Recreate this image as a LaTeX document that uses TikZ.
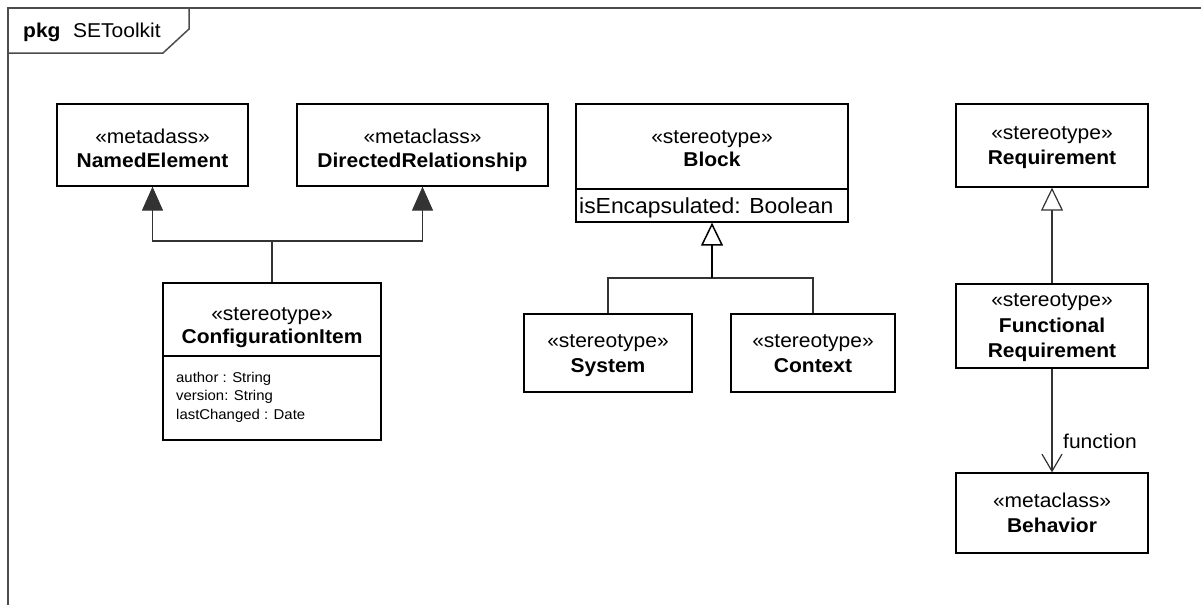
\documentclass[tikz,border=0pt]{standalone}
\usepackage{fontspec}
\setmainfont{Liberation Sans}[FakeStretch=1.05]
\usetikzlibrary{arrows.meta,calc}
\tikzset{
  umlbox/.style={draw=black, line width=1.3pt, fill=white, inner sep=0pt},
  divline/.style={draw=black, line width=1.3pt},
  stereo/.style={anchor=base, inner sep=0pt, font=\fontsize{20}{24}\selectfont},
  cname/.style={anchor=base, inner sep=0pt, font=\fontsize{20}{24}\selectfont\bfseries},
  attr/.style={anchor=base west, inner sep=0pt, font=\fontsize{14.2}{17}\selectfont},
  conn/.style={draw=black!80, line width=1.2pt},
  ext/.style={conn, -{Triangle[length=24pt,width=21pt]}},
  gen/.style={conn, -{Triangle[open,length=23pt,width=22pt,fill=white]}},
  assoc/.style={conn, -{Straight Barb[length=17pt,width=20pt]}},
  frameline/.style={draw=black!70, line width=1.5pt},
}
\begin{document}
\begin{tikzpicture}[x=1pt,y=-1pt]
\useasboundingbox (0,0) rectangle (1201,605);
% frame
\draw[frameline] (8,605) -- (8,8) -- (1201,8);
\draw[frameline] (8,53) -- (163,53) -- (189,29) -- (189,8);
\node[anchor=base west, inner sep=0pt, font=\fontsize{20}{24}\selectfont\bfseries] (pkgkw) at (23,37) {pkg};
\node[anchor=base west, inner sep=0pt, font=\fontsize{20}{24}\selectfont] (pkgname) at (73,37) {SEToolkit};

% boxes
\node[umlbox, minimum width=191pt, minimum height=82pt] (ne) at (152.5,145) {};
\node[umlbox, minimum width=251pt, minimum height=82pt] (dr) at (422.5,145) {};
\node[umlbox, minimum width=218pt, minimum height=157pt] (ci) at (272,361.5) {};
\node[umlbox, minimum width=272pt, minimum height=118pt] (block) at (712,163) {};
\node[umlbox, minimum width=168pt, minimum height=78pt] (sys) at (608,353) {};
\node[umlbox, minimum width=164pt, minimum height=78pt] (ctx) at (813,353) {};
\node[umlbox, minimum width=192pt, minimum height=83pt] (req) at (1052,145.5) {};
\node[umlbox, minimum width=192pt, minimum height=84pt] (fr) at (1052,326) {};
\node[umlbox, minimum width=192pt, minimum height=80pt] (beh) at (1052,513) {};

% dividers
\draw[divline] (163,356) -- (381,356);
\draw[divline] (576,189) -- (848,189);

% texts
\node[stereo] (ne1) at (152.5,143) {«metadass»};
\node[cname]  (ne2) at (152.5,167) {NamedElement};
\node[stereo] (dr1) at (422.5,143) {«metaclass»};
\node[cname]  (dr2) at (422.5,167) {DirectedRelationship};
\node[stereo] (ci1) at (272,320) {«stereotype»};
\node[cname]  (ci2) at (272,343) {ConfigurationItem};
\node[attr] (ci3) at (176,382) {author : String};
\node[attr] (ci4) at (176,400) {version: String};
\node[attr] (ci5) at (176,419) {lastChanged : Date};
\node[stereo] (bl1) at (712,143) {«stereotype»};
\node[cname]  (bl2) at (712,166) {Block};
\node[anchor=base west, inner sep=0pt, font=\fontsize{21.8}{26}\selectfont] (bl3) at (579,213) {isEncapsulated: Boolean};
\node[stereo] (sy1) at (608,347) {«stereotype»};
\node[cname]  (sy2) at (608,372) {System};
\node[stereo] (cx1) at (813,347) {«stereotype»};
\node[cname]  (cx2) at (813,372) {Context};
\node[stereo] (rq1) at (1052,139) {«stereotype»};
\node[cname]  (rq2) at (1052,164) {Requirement};
\node[stereo] (fr1) at (1052,306) {«stereotype»};
\node[cname]  (fr2) at (1052,332) {Functional};
\node[cname]  (fr3) at (1052,357) {Requirement};
\node[stereo] (bh1) at (1052,507) {«metaclass»};
\node[cname]  (bh2) at (1052,532) {Behavior};

% connectors
\coordinate (j1) at (272,241);
\draw[conn] (ci.north) -- (j1);
\draw[ext] (j1) -| (ne.south);
\draw[ext] (j1) -| (dr.south);

\coordinate (j2) at (712,278);
\draw[conn] (sys.north) |- (j2);
\draw[conn] (ctx.north) |- (j2);
\draw[gen, line width=1.5pt, draw=black] (j2) -- (block.south);

\draw[gen] (fr.north) -- (req.south);
\draw[assoc] (fr.south) -- (beh.north);
\node[anchor=base west, inner sep=0pt, font=\fontsize{20}{24}\selectfont] (fnlab) at (1063,448) {function};
\end{tikzpicture}
\end{document}
